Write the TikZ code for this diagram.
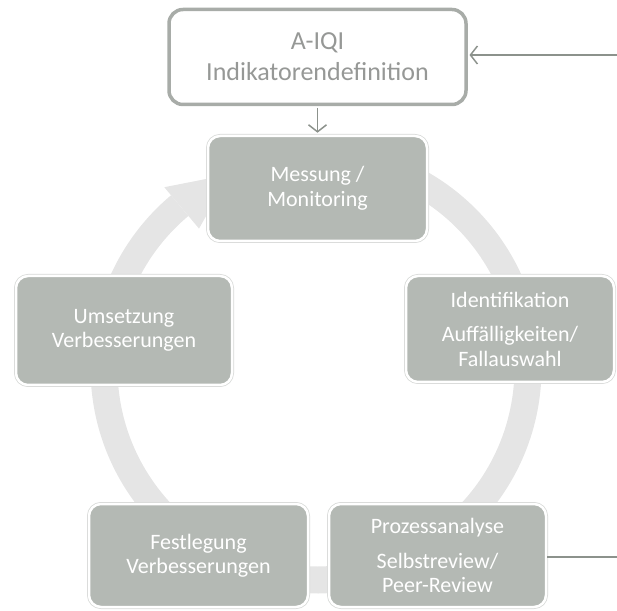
\documentclass[tikz,border=0pt]{standalone}
\usepackage{fontspec}
\setmainfont{Carlito}
\usetikzlibrary{arrows.meta}
\definecolor{boxgray}{RGB}{180,185,180}
\definecolor{ringgray}{RGB}{229,229,229}
\definecolor{edgegray}{RGB}{214,216,214}
\definecolor{topgray}{RGB}{168,172,168}
\definecolor{toptext}{RGB}{150,152,150}
\definecolor{linegray}{RGB}{140,146,140}
\begin{document}
\begin{tikzpicture}[x=1pt,y=1pt,
  cyclebox/.style={rounded corners=12pt, fill=boxgray, draw=white, line width=2.5pt,
     preaction={draw=edgegray, line width=4pt},
     text=white, font=\fontsize{22}{24.5}\selectfont, align=center, inner sep=0pt},
  topbox/.style={rounded corners=14pt, fill=white, draw=topgray, line width=3.5pt,
     text=toptext, font=\fontsize{26}{31}\selectfont, align=center, inner sep=0pt,
     minimum width=297pt, minimum height=95pt},
  conn/.style={draw=linegray, line width=1.5pt, -{Straight Barb[length=7pt,width=18pt]}}
]
\useasboundingbox (0,0) rectangle (617,610);
% cycle ring with arrow
\coordinate (C) at (316,242);
\fill[ringgray] ([shift={(95:225.5pt)}]C) arc[start angle=95, end angle=-230, radius=225.5pt]
  -- ([shift={(-230:198.5pt)}]C) arc[start angle=-230, end angle=95, radius=198.5pt] -- cycle;
\fill[ringgray] ([shift={(-230:182pt)}]C) -- ([shift={(-230:236pt)}]C) -- ([shift={(-246:212pt)}]C) -- cycle;
% nodes
\node[topbox] (aiqi) at (317.5,553) {A-IQI\\Indikatorendefinition};
\node[cyclebox, minimum width=219pt, minimum height=105pt] (mess) at (317.5,421.5) {Messung /\\Monitoring};
\node[cyclebox, minimum width=208pt, minimum height=106pt] (ident) at (510,281) {Identifikation\\[10pt]Auffälligkeiten/\\Fallauswahl};
\node[cyclebox, minimum width=216pt, minimum height=109pt] (ums) at (124,279.5) {Umsetzung\\Verbesserungen};
\node[cyclebox, minimum width=219pt, minimum height=103pt] (fest) at (198.5,54.5) {Festlegung\\Verbesserungen};
\node[cyclebox, minimum width=217pt, minimum height=103pt] (proz) at (437.5,54.5) {Prozessanalyse\\[10pt]Selbstreview/\\Peer-Review};
% connectors
\coordinate (rin) at (617,555);
\draw[conn, shorten >=1.75pt] (rin) -- (rin -| aiqi.east);
\draw[conn, shorten <=1.75pt, shorten >=2pt] (aiqi.south) -- (mess.north);
\coordinate (rout) at (617,53);
\draw[draw=linegray, line width=1.5pt] (proz.east |- rout) -- (rout);
\end{tikzpicture}
\end{document}
